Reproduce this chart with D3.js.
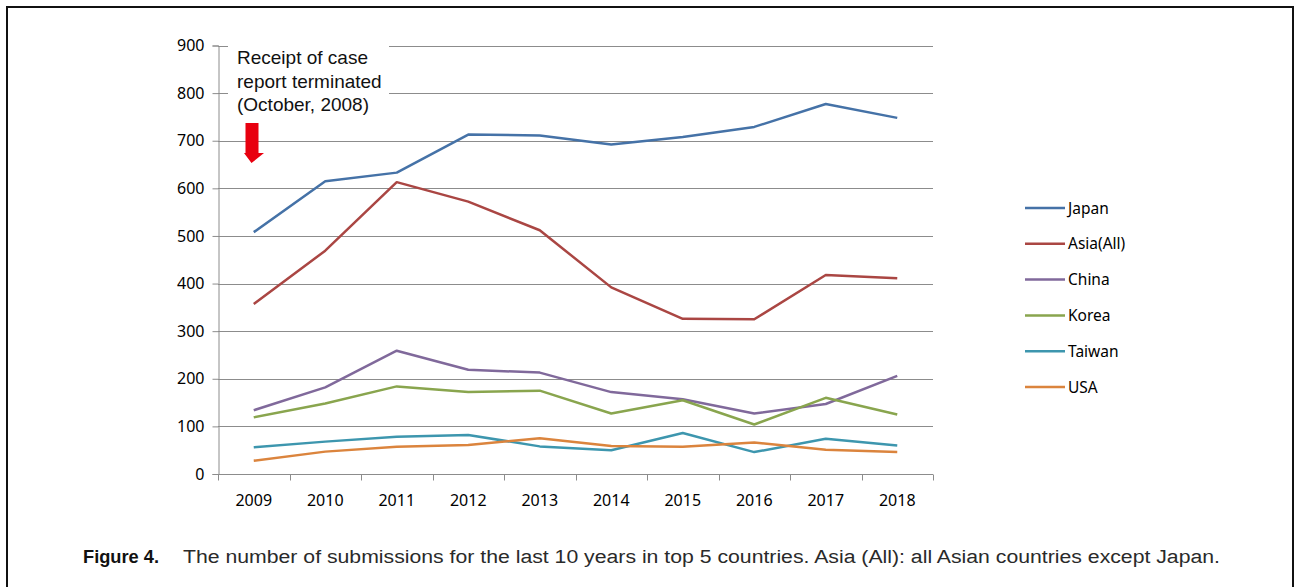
<!DOCTYPE html>
<html>
<head>
<meta charset="utf-8">
<script src="https://cdn.jsdelivr.net/npm/d3@7"></script>
<style>
  body { margin: 0; background: #fff; }
  .legend text { font-family: "Noto Sans", "Open Sans", sans-serif; font-size: 15.5px; fill: #000; }
  .note { font-family: "Liberation Sans", Arial, sans-serif; font-size: 19px; fill: #111; }
  .caption { font-family: "Liberation Sans", Arial, sans-serif; font-size: 18px; fill: #2a2a2a; }
  .figlabel { font-family: "Liberation Sans Narrow", "Liberation Sans", Arial, sans-serif; font-size: 19px; font-weight: bold; fill: #111; }
</style>
</head>
<body>
<svg id="chart"></svg>
<script>
// data
const years = ["2009", "2010", "2011", "2012", "2013", "2014", "2015", "2016", "2017", "2018"]
const seriesNames = ["Japan", "Asia(All)", "China", "Korea", "Taiwan", "USA"]
const japan  = [508, 615, 633, 713, 711, 692, 708, 729, 777, 748]
const asia   = [357, 469, 613, 572, 512, 392, 326, 325, 418, 411]
const china  = [134, 182, 259, 219, 213, 172, 157, 127, 147, 206]
const korea  = [119, 148, 184, 172, 175, 127, 155, 104, 160, 125]
const taiwan = [56, 68, 78, 82, 58, 50, 86, 46, 74, 60]
const usa    = [28, 47, 57, 61, 75, 59, 57, 66, 51, 46]
const yTicks = [0, 100, 200, 300, 400, 500, 600, 700, 800, 900]
const colors = ["#4572A7", "#AA4643", "#80699B", "#89A54E", "#3D96AE", "#DB843D"]

const allSeries = [japan, asia, china, korea, taiwan, usa]

const W = 1297
const H = 587

var svg = d3.select("#chart")
    .attr("width", W)
    .attr("height", H)

// frame around the figure
svg.append("path")
    .attr("d", "M7,587 V7 H1293 V587")
    .attr("fill", "none")
    .attr("stroke", "#111")
    .attr("stroke-width", 2)

// plot area
const plotLeft = 218
const plotRight = 933
const plotTop = 45.5
const plotBottom = 474

const xScale = d3.scaleBand()
    .domain(years)
    .range([plotLeft, plotRight])

const yScale = d3.scaleLinear()
    .domain([0, 900])
    .range([plotBottom, plotTop])

// gridlines
svg.append("g")
    .selectAll("line")
    .data(yTicks.filter(d => d > 0))
    .join("line")
    .attr("x1", plotLeft)
    .attr("x2", plotRight)
    .attr("y1", d => Math.round(yScale(d)) + 0.5)
    .attr("y2", d => Math.round(yScale(d)) + 0.5)
    .attr("stroke", "#8c8c8c")
    .attr("stroke-width", 1)

// Y axis
var yAxis = svg.append("g")
    .attr("transform", `translate(${plotLeft + 0.5},0)`)
    .call(d3.axisLeft(yScale).tickValues(yTicks).tickSize(6).tickPadding(8))
yAxis.select(".domain").attr("stroke", "#8c8c8c")
yAxis.selectAll(".tick line").attr("stroke", "#8c8c8c")
yAxis.selectAll(".tick text")
    .attr("fill", "#000")
    .style("font-family", "'Noto Sans', 'Open Sans', sans-serif")
    .style("font-size", "16px")

// X axis, ticks sit between the categories
var xAxis = svg.append("g")
    .attr("transform", `translate(0,${Math.round(plotBottom) + 0.5})`)
xAxis.append("line")
    .attr("x1", plotLeft)
    .attr("x2", plotRight)
    .attr("stroke", "#8c8c8c")
xAxis.selectAll(".xtick")
    .data(years.concat(["end"]))
    .join("line")
    .attr("class", "xtick")
    .attr("x1", (d, i) => Math.round(plotLeft + i * xScale.bandwidth()) + 0.5)
    .attr("x2", (d, i) => Math.round(plotLeft + i * xScale.bandwidth()) + 0.5)
    .attr("y1", 0)
    .attr("y2", 6)
    .attr("stroke", "#8c8c8c")
xAxis.selectAll(".xlabel")
    .data(years)
    .join("text")
    .attr("class", "xlabel")
    .attr("x", d => xScale(d) + xScale.bandwidth() / 2)
    .attr("y", 31)
    .attr("text-anchor", "middle")
    .style("font-family", "'Noto Sans', 'Open Sans', sans-serif")
    .style("font-size", "16px")
    .text(d => d)

// lines
var line = d3.line()
    .x((d, i) => xScale(years[i]) + xScale.bandwidth() / 2)
    .y(d => yScale(d))

allSeries.forEach(function(s, k) {
    svg.append("path")
        .datum(s)
        .attr("fill", "none")
        .attr("stroke", colors[k])
        .attr("stroke-width", 2.5)
        .attr("stroke-linejoin", "round")
        .attr("d", line)
})

// annotation with white box
svg.append("rect")
    .attr("x", 228)
    .attr("y", 40)
    .attr("width", 161)
    .attr("height", 76)
    .attr("fill", "#fff")
const noteLines = ["Receipt of case", "report terminated", "(October, 2008)"]
svg.append("g").selectAll("text")
    .data(noteLines)
    .join("text")
    .attr("class", "note")
    .attr("x", 237)
    .attr("y", (d, i) => 64 + i * 23.5)
    .text(d => d)

// red arrow
svg.append("path")
    .attr("d", "M245.5,123 H258.5 V153 H264 L251.5,163 L244,153 H245.5 Z")
    .attr("fill", "#e8000f")

// legend
var legend = svg.append("g").attr("class", "legend")
seriesNames.forEach(function(name, k) {
    var yy = 208 + k * 35.8
    legend.append("line")
        .attr("x1", 1025)
        .attr("x2", 1065)
        .attr("y1", yy)
        .attr("y2", yy)
        .attr("stroke", colors[k])
        .attr("stroke-width", 2.5)
    legend.append("text")
        .attr("x", 1068)
        .attr("y", yy + 5.5)
        .text(name)
})

// caption
svg.append("text")
    .attr("class", "figlabel")
    .attr("x", 83)
    .attr("y", 563)
    .attr("textLength", 76)
    .attr("lengthAdjust", "spacingAndGlyphs")
    .text("Figure 4.")
svg.append("text")
    .attr("class", "caption")
    .attr("x", 183)
    .attr("y", 563)
    .attr("textLength", 1037)
    .attr("lengthAdjust", "spacingAndGlyphs")
    .text("The number of submissions for the last 10 years in top 5 countries. Asia (All): all Asian countries except Japan.")
</script>
</body>
</html>
